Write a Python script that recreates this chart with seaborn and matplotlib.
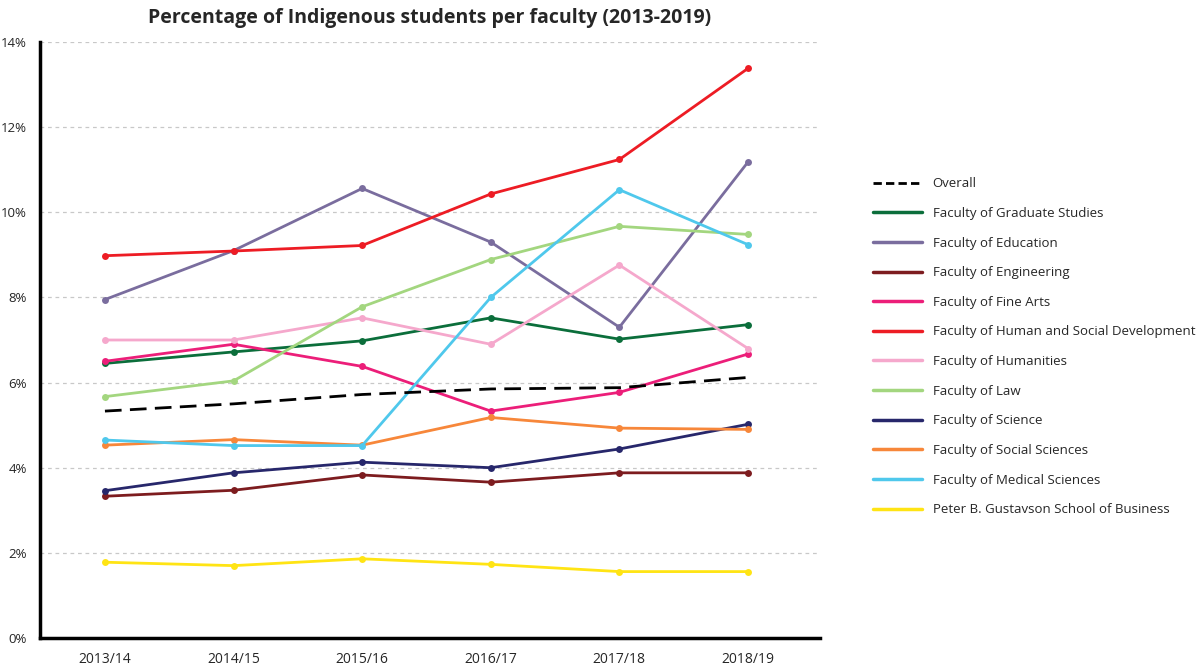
import pandas as pd
import matplotlib.pyplot as plt
import seaborn as sns
from matplotlib.lines import Line2D

# data (percent)
years = ["2013/14", "2014/15", "2015/16", "2016/17", "2017/18", "2018/19"]

overall = [5.33, 5.50, 5.72, 5.85, 5.88, 6.12]
graduate = [6.45, 6.72, 6.98, 7.52, 7.02, 7.36]
education = [7.95, 9.10, 10.56, 9.30, 7.30, 11.18]
engineering = [3.33, 3.47, 3.83, 3.66, 3.88, 3.88]
fine_arts = [6.50, 6.90, 6.38, 5.33, 5.77, 6.67]
human_social = [8.98, 9.09, 9.22, 10.43, 11.24, 13.38]
humanities = [7.00, 7.00, 7.52, 6.90, 8.76, 6.80]
law = [5.67, 6.04, 7.78, 8.89, 9.67, 9.48]
science = [3.46, 3.88, 4.13, 4.00, 4.44, 5.02]
social_sci = [4.53, 4.66, 4.53, 5.18, 4.93, 4.90]
medical = [4.65, 4.52, 4.52, 8.00, 10.53, 9.24]
gustavson = [1.78, 1.70, 1.86, 1.73, 1.56, 1.56]

faculties = [
    "Faculty of Graduate Studies",
    "Faculty of Education",
    "Faculty of Engineering",
    "Faculty of Fine Arts",
    "Faculty of Human and Social Development",
    "Faculty of Humanities",
    "Faculty of Law",
    "Faculty of Science",
    "Faculty of Social Sciences",
    "Faculty of Medical Sciences",
    "Peter B. Gustavson School of Business",
]
faculty_values = [graduate, education, engineering, fine_arts, human_social,
                  humanities, law, science, social_sci, medical, gustavson]
colors = ["#0b6e3b", "#7a6d9e", "#7d1c1f", "#ec1e79", "#ed1c24", "#f5a8cc",
          "#a3d67f", "#27276b", "#f7873a", "#4fc8ec", "#ffe414"]

rows = []
for name, vals in zip(faculties, faculty_values):
    for yr, v in zip(years, vals):
        rows.append({"Year": yr, "Faculty": name, "Pct": v})
df = pd.DataFrame(rows)
df_overall = pd.DataFrame({"Year": years, "Pct": overall})

sns.set_style("white")
plt.rcParams['font.family'] = ['Open Sans', 'DejaVu Sans']

fig = plt.figure(figsize=(12, 6.7), dpi=100)
ax = fig.add_axes([40 / 1200, 32 / 670, 780 / 1200, 596 / 670])

palette = dict(zip(faculties, colors))
sns.lineplot(data=df, x="Year", y="Pct", hue="Faculty", palette=palette,
             marker="o", markersize=5, markeredgewidth=0, linewidth=2,
             legend=False, ax=ax, zorder=3)
sns.lineplot(data=df_overall, x="Year", y="Pct", color="black", linewidth=2,
             dashes=False, ax=ax, zorder=4)
ax.lines[-1].set_dashes((6, 3))

ax.set_xlim(-0.505, 5.56)
ax.set_ylim(0, 14)
ax.set_yticks(range(0, 15, 2))
ax.set_yticklabels([f"{t}%" for t in range(0, 15, 2)])
ax.set_xlabel("")
ax.set_ylabel("")
ax.grid(axis="y", color="#c8c8c8", linestyle=(0, (3, 3)), linewidth=0.9)
ax.set_axisbelow(True)

for side in ["top", "right"]:
    ax.spines[side].set_visible(False)
for side in ["left", "bottom"]:
    ax.spines[side].set_linewidth(2.5)
    ax.spines[side].set_color("black")

ax.tick_params(axis="x", direction="in", length=7, width=1.2, color="black",
               labelsize=10, pad=10)
ax.tick_params(axis="y", length=0, labelsize=9.5, pad=9.5)

ax.set_title("Percentage of Indigenous students per faculty (2013-2019)",
             fontsize=14, fontweight="bold", pad=14)

handles = [Line2D([0], [0], color="black", linewidth=2, dashes=(3, 1.5))]
handles += [Line2D([0], [0], color=c, linewidth=2.5) for c in colors]
labels = ["Overall"] + faculties
fig.legend(handles, labels, loc="upper left", bbox_to_anchor=(868 / 1200, 1 - 172 / 670),
           frameon=False, fontsize=9.5, handlelength=3.7, labelspacing=1.26,
           handletextpad=0.8, borderaxespad=0)

fig.savefig("out.png", dpi=100)
